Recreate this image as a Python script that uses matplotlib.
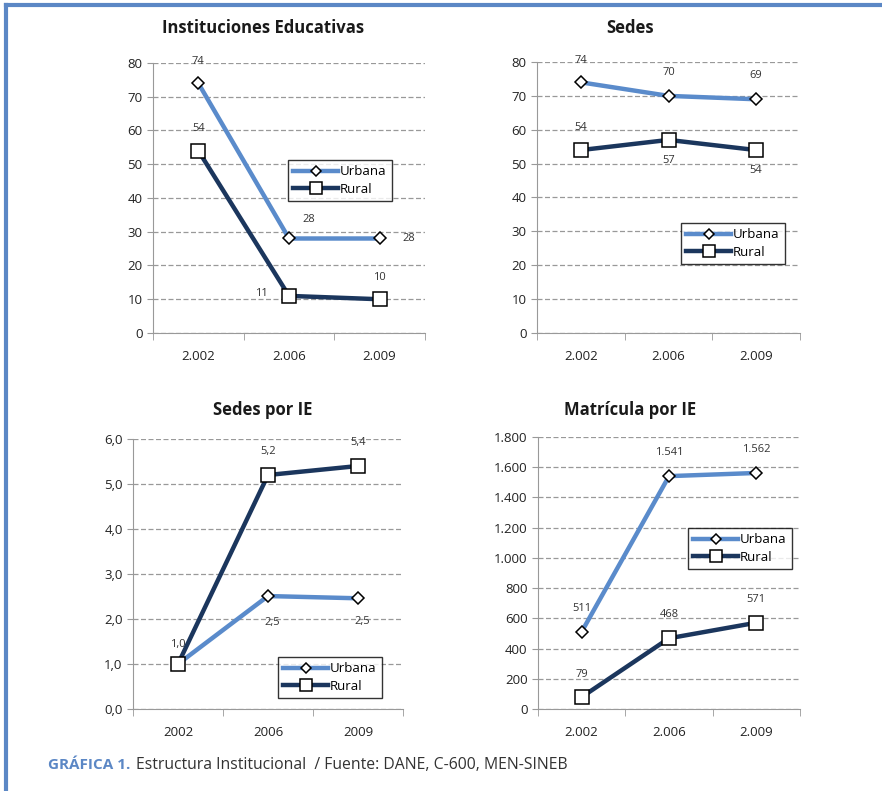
import matplotlib
matplotlib.use("Agg")
import matplotlib.pyplot as plt
from matplotlib.lines import Line2D

plt.rcParams['font.family'] = ['Open Sans', 'DejaVu Sans']

# Data
years_dotted = ["2.002", "2.006", "2.009"]
years_plain = ["2002", "2006", "2009"]

ie_urbana = [74, 28, 28]
ie_rural = [54, 11, 10]

sedes_urbana = [74, 70, 69]
sedes_rural = [54, 57, 54]

sedes_ie_urbana = [1.0, 2.51, 2.46]
sedes_ie_rural = [1.0, 5.2, 5.4]

matricula_urbana = [511, 1541, 1562]
matricula_rural = [79, 468, 571]

URB = "#5a8bcb"
RUR = "#1b365d"
W, H = 882, 791

fig = plt.figure(figsize=(W / 100, H / 100), dpi=100)
fig.patch.set_facecolor("white")

# Frame lines on top and left
fig.add_artist(Line2D([6 / W, 1], [1 - 5 / H, 1 - 5 / H], color="#5b87c5", lw=3,
                      transform=fig.transFigure))
fig.add_artist(Line2D([6 / W, 6 / W], [0, 1 - 5 / H], color="#5b87c5", lw=3,
                      transform=fig.transFigure))


def px_axes(left, right, top, bottom):
    return fig.add_axes([left / W, 1 - bottom / H, (right - left) / W, (bottom - top) / H])


def fmt_int(v):
    return f"{int(round(v)):,}".replace(",", ".")


def fmt_dec(v):
    return f"{v:.1f}".replace(".", ",")


def draw_panel(ax, title, title_xy, cats, urb, rur, ylim, yticks, ytick_fmt,
               label_fmt, urb_offsets, rur_offsets, legend_xy, skip_rur=()):
    x = range(len(cats))
    ax.plot(x, urb, color=URB, lw=3.2, marker="D", ms=6, mfc="white", mec="black",
            mew=1.1, label="Urbana", zorder=4, solid_joinstyle="round")
    ax.plot(x, rur, color=RUR, lw=3.2, marker="s", ms=9.5, mfc="white", mec="black",
            mew=1.1, label="Rural", zorder=5, solid_joinstyle="round")
    ax.set_xlim(-0.5, len(cats) - 0.5)
    ax.set_ylim(*ylim)
    ax.set_yticks(yticks)
    ax.set_yticklabels([ytick_fmt(t) for t in yticks])
    ax.set_xticks(list(x))
    ax.set_xticklabels(cats)
    ax.tick_params(axis="x", length=0, pad=12, labelsize=9.5, colors="#222222")
    ax.set_xticks([i - 0.5 for i in range(len(cats) + 1)], minor=True)
    ax.tick_params(axis="x", which="minor", length=5, color="#999999")
    ax.tick_params(axis="y", length=4, color="#999999", labelsize=9.5, colors="#222222")
    for s in ("top", "right"):
        ax.spines[s].set_visible(False)
    for s in ("left", "bottom"):
        ax.spines[s].set_color("#999999")
    ax.grid(axis="y", linestyle=(0, (4, 2)), color="#999999", lw=0.9)
    ax.set_axisbelow(True)
    for i, v in enumerate(urb):
        dx, dy = urb_offsets[i]
        ax.annotate(label_fmt(v), (i, v), xytext=(dx, dy), textcoords="offset points",
                    ha="center", va="center", fontsize=8, color="#333333")
    for i, v in enumerate(rur):
        if i in skip_rur:
            continue
        dx, dy = rur_offsets[i]
        ax.annotate(label_fmt(v), (i, v), xytext=(dx, dy), textcoords="offset points",
                    ha="center", va="center", fontsize=8, color="#333333")
    fig.text(title_xy[0] / W, 1 - title_xy[1] / H, title, ha="center", va="center",
             fontsize=12, fontweight="bold", color="#1a1a1a")
    leg = ax.legend(loc="upper left", bbox_to_anchor=(legend_xy[0] / W, 1 - legend_xy[1] / H),
                    bbox_transform=fig.transFigure, frameon=True, fancybox=False,
                    edgecolor="black", fontsize=9.5, handlelength=3.4, handletextpad=0.15,
                    borderpad=0.4, labelspacing=0.35, borderaxespad=0, markerscale=0.85)
    leg.get_frame().set_linewidth(1.0)


ax1 = px_axes(153, 425, 63, 333)
draw_panel(ax1, "Instituciones Educativas", (263, 28), years_dotted, ie_urbana, ie_rural,
           (0, 80), range(0, 81, 10), lambda t: f"{t:d}", fmt_int,
           [(0, 16), (14, 14), (21, 0)], [(0, 16), (-20, 2), (0, 16)], (288, 160))

ax2 = px_axes(537, 800, 62, 333)
draw_panel(ax2, "Sedes", (630, 28), years_dotted, sedes_urbana, sedes_rural,
           (0, 80), range(0, 81, 10), lambda t: f"{t:d}", fmt_int,
           [(0, 16), (0, 17), (0, 17)], [(0, 16), (0, -15), (0, -15)], (681, 223))

ax3 = px_axes(133, 403, 439, 709)
draw_panel(ax3, "Sedes por IE", (263, 410), years_plain, sedes_ie_urbana, sedes_ie_rural,
           (0, 6), [0, 1, 2, 3, 4, 5, 6], lambda t: fmt_dec(t), fmt_dec,
           [(0, 14), (3, -19), (3, -17)], [(0, 14), (0, 17), (0, 17)], (278, 657),
           skip_rur=(0,))

ax4 = px_axes(538, 800, 437, 709)
draw_panel(ax4, "Matrícula por IE", (630, 410), years_dotted, matricula_urbana, matricula_rural,
           (0, 1800), range(0, 1801, 200), fmt_int, fmt_int,
           [(0, 17), (0, 17), (0, 17)], [(0, 16), (0, 17), (0, 17)], (688, 528))

# Caption
fig.text(48 / W, 1 - 765 / H, "GRÁFICA 1.", ha="left", va="center", fontsize=11,
         fontweight="bold", color="#5b87c5")
fig.text(136 / W, 1 - 765 / H, "Estructura Institucional  / Fuente: DANE, C-600, MEN-SINEB",
         ha="left", va="center", fontsize=11.3, color="#333333")

fig.savefig("out.png", dpi=100, facecolor="white")
